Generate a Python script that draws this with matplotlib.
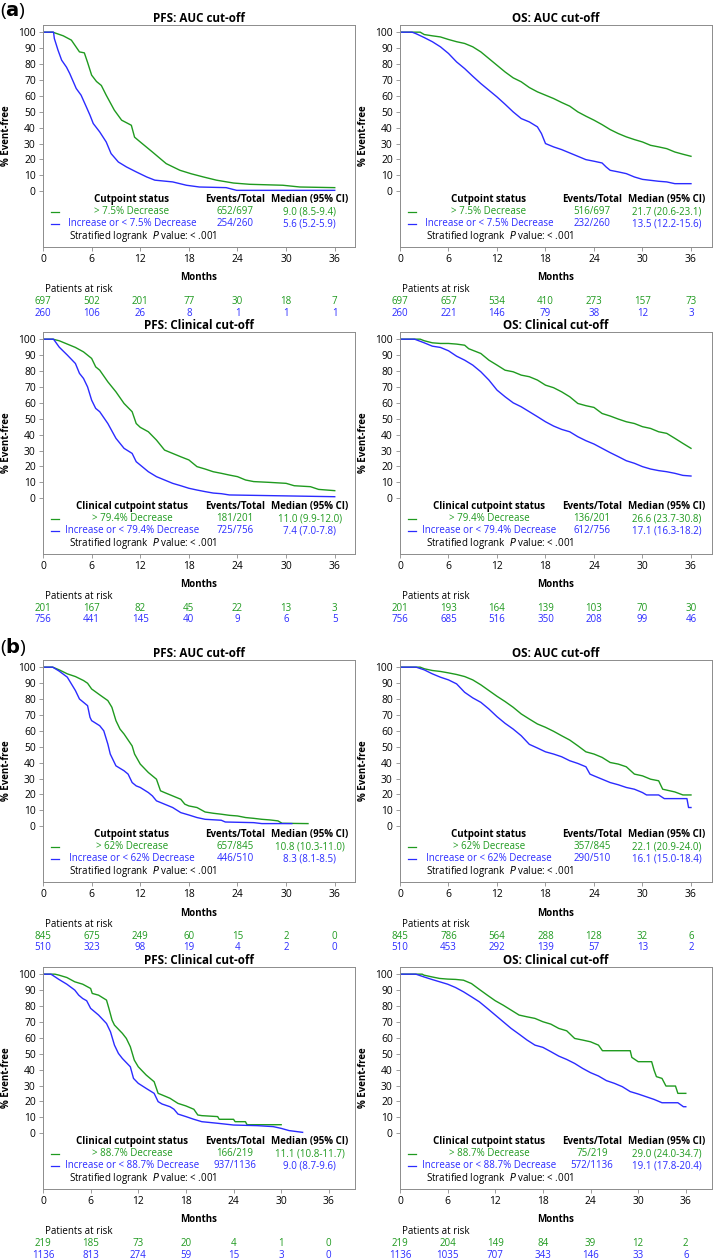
import matplotlib
matplotlib.use("Agg")
import matplotlib.pyplot as plt

plt.rcParams["font.family"] = ["Open Sans", "DejaVu Sans"]
plt.rcParams["mathtext.fontset"] = "dejavusans"

GREEN = "#1f9a1f"
BLUE = "#2b2bff"
FRAME = "#8c8c8c"
FS = 7.0        # legend / risk table text
TICK_FS = 7.4   # tick labels
TITLE_FS = 8.4  # panel titles

# x axis / risk table time points
months = [0, 6, 12, 18, 24, 30, 36]

# ---------------- (a) PFS: AUC cut-off ----------------
a_pfs_auc_t_g = [0, 1.2, 2.5, 3.5, 4.5, 5.1, 5.5, 6, 6.6, 7.2, 7.8, 8.8, 9.7, 10.9, 11.3, 12, 13.5, 15.2, 16.9, 18.3,
                 19.8, 21.4, 23.5, 25.5, 29.6, 31.7, 36]
a_pfs_auc_s_g = [100, 100, 97.7, 95, 87.6, 87, 81, 73, 69, 66.5, 60.4, 51, 44.7, 41.5, 34, 31, 24.7, 17.4, 13.2, 11,
                 9, 7, 5.2, 4.4, 3.8, 2.7, 2.3]
a_pfs_auc_t_b = [0, 1.3, 1.4, 1.85, 2.3, 2.9, 3.3, 4.1, 4.7, 5.35, 5.8, 6.2, 7, 7.8, 8.4, 9.3, 10.3, 11.5, 12.8, 13.8,
                 16, 17.7, 19.3, 22.6, 23.9, 36]
a_pfs_auc_s_b = [100, 100, 96, 88.7, 82.4, 78, 74, 64.6, 60.4, 53, 47.8, 42.6, 37.3, 31, 23.7, 18.4, 15.3, 12.2, 9, 7,
                 5.9, 3.8, 2.7, 2.3, 0.6, 0.6]
a_pfs_auc_risk_g = [697, 502, 201, 77, 30, 18, 7]
a_pfs_auc_risk_b = [260, 106, 26, 8, 1, 1, 1]

# ---------------- (a) OS: AUC cut-off ----------------
a_os_auc_t_g = [0, 2.5, 3, 4, 5, 6, 7, 8, 9, 10, 11, 12, 13, 14, 15, 16, 17, 18, 19, 20, 21, 22, 23, 24, 25, 26, 27,
                28, 29, 30, 31, 32, 33, 34, 35, 36]
a_os_auc_s_g = [100, 100, 98.5, 97.7, 97, 95.4, 94, 92.9, 90.8, 87.6, 83.4, 79.2, 75, 71.3, 68.8, 65.2, 62.5, 60.4,
                58.3, 55.8, 53.5, 49.9, 47.2, 44.7, 41.9, 38.8, 36.3, 34.2, 32.5, 31, 28.9, 27.9, 26.8, 24.7, 23.3, 22]
a_os_auc_t_b = [0, 1.5, 2, 3, 4, 5, 6, 7, 8, 9, 10, 11, 12, 13, 14, 15, 16, 17, 17.5, 18, 19, 20, 21, 22, 23, 24, 25,
                25.5, 26, 27, 28, 29, 30, 31, 32, 33, 34, 36]
a_os_auc_s_b = [100, 100, 99, 96.6, 94, 90.8, 86.6, 81.3, 77.1, 72.3, 67.7, 63.5, 59.3, 54.7, 49.9, 45.7, 43.6, 40.5,
                36.3, 30, 27.9, 26.2, 24.1, 22, 19.9, 18.9, 17.8, 15.3, 13.2, 12.2, 11.1, 9, 7.5, 6.9, 6.3, 5.9, 4.8, 4.8]
a_os_auc_risk_g = [697, 657, 534, 410, 273, 157, 73]
a_os_auc_risk_b = [260, 221, 146, 79, 38, 12, 3]

# ---------------- (a) PFS: Clinical cut-off ----------------
a_pfs_cli_t_g = [0, 1.2, 2, 3, 4, 5, 6, 6.5, 7, 8, 9, 10, 11, 11.5, 12, 13, 14, 15, 16, 17, 18, 19, 20, 21, 22, 23,
                 24, 25, 26, 28, 30, 31, 33, 34, 36]
a_pfs_cli_s_g = [100, 100, 99, 96.9, 94.8, 92, 87.9, 82.6, 80.5, 73.2, 66.9, 59.6, 54.4, 47, 44.6, 41.8, 36.6, 30.3,
                 28.2, 26.1, 24.1, 19.9, 18.4, 16.7, 15.7, 14.6, 13.6, 11.5, 10.5, 10, 9.4, 7.9, 7.3, 5.6, 4.8]
a_pfs_cli_t_b = [0, 1.3, 2, 3, 4, 4.5, 5, 5.5, 6, 6.5, 7, 8, 9, 10, 11, 11.5, 12, 13, 14, 15, 16, 17, 18, 19, 20, 21,
                 22, 23, 36]
a_pfs_cli_s_b = [100, 100, 95, 90, 84.7, 78.5, 75.3, 70, 61.7, 56.5, 54.4, 47, 37.7, 31.4, 28.2, 23, 20.9, 16.7, 13.6,
                 11.5, 9.4, 7.9, 6.3, 5.2, 4.2, 3.3, 2.9, 2.1, 1.0]
a_pfs_cli_risk_g = [201, 167, 82, 45, 22, 13, 3]
a_pfs_cli_risk_b = [756, 441, 145, 40, 9, 6, 5]

# ---------------- (a) OS: Clinical cut-off ----------------
a_os_cli_t_g = [0, 2.5, 3, 4, 5, 6, 7, 8, 8.5, 9, 10, 11, 12, 13, 14, 15, 16, 17, 18, 19, 20, 21, 22, 23, 24, 25, 26,
                27, 28, 29, 30, 31, 32, 33, 34, 35, 36]
a_os_cli_s_g = [100, 100, 99, 97.7, 97.3, 97.3, 96.9, 96.2, 94, 93, 91, 86.8, 83.7, 80.5, 79.5, 77.4, 76.4, 74.3, 71.1,
                69.5, 66.9, 63.8, 59.6, 58.2, 57.1, 53.3, 51.7, 49.8, 48.1, 47, 45, 43.9, 41.8, 40.8, 37.7, 34.5, 31.4]
a_os_cli_t_b = [0, 1.8, 3, 4, 5, 6, 7, 8, 9, 10, 11, 12, 13, 14, 15, 16, 17, 18, 19, 20, 21, 22, 23, 24, 25, 26, 27,
                28, 29, 30, 31, 32, 33, 34, 35, 36]
a_os_cli_s_b = [100, 100, 97.7, 95.6, 94.8, 92.7, 89.3, 86.8, 83.7, 79.5, 74.3, 68, 63.8, 60, 57.5, 54.4, 51.3, 48.1,
                45.4, 43.3, 41.8, 38.7, 36.2, 34.1, 31.4, 28.7, 26.2, 23.6, 22, 19.9, 18.4, 17.4, 16.7, 15.7, 14.4, 14]
a_os_cli_risk_g = [201, 193, 164, 139, 103, 70, 30]
a_os_cli_risk_b = [756, 685, 516, 350, 208, 99, 46]

# ---------------- (b) PFS: AUC cut-off ----------------
b_pfs_auc_t_g = [0, 1.2, 2, 3, 4, 5, 5.5, 6, 7, 8, 8.5, 9, 9.5, 10, 11, 11.3, 12, 13, 14, 14.5, 15, 16, 17, 17.5, 18,
                 19, 20, 21, 22, 23, 24, 25, 26, 27, 28, 29, 29.5, 32.7]
b_pfs_auc_s_g = [100, 100, 98.3, 95.8, 94.1, 91.6, 89.9, 86.3, 82.6, 79, 74.8, 66.4, 61.1, 58, 50.5, 45.4, 39.1, 33.8,
                 29.6, 22.3, 21.2, 19.1, 17, 13.9, 12.8, 11.8, 9, 8.2, 7.6, 6.9, 6.5, 5.5, 5, 4.4, 4, 3.4, 1.9, 1.7]
b_pfs_auc_t_b = [0, 1.2, 2, 3, 3.5, 4, 4.5, 5, 5.5, 5.8, 6, 7, 7.5, 8, 8.3, 9, 10, 10.5, 11, 11.5, 12, 13, 13.5, 14,
                 15, 16, 17, 18, 19, 20, 22, 22.5, 26, 27, 30.7]
b_pfs_auc_s_b = [100, 100, 97.5, 93.7, 89.5, 85.3, 80, 77.9, 75.8, 68.5, 66.4, 63.2, 60, 51.7, 45.4, 38, 34.9, 32.8,
                 27.5, 25.4, 24.4, 21.2, 19.1, 16, 13.9, 11.8, 8.6, 7.1, 5.5, 4.4, 3.8, 2.7, 2.3, 1.7, 1.7]
b_pfs_auc_risk_g = [845, 675, 249, 60, 15, 2, 0]
b_pfs_auc_risk_b = [510, 323, 98, 19, 4, 2, 0]

# ---------------- (b) OS: AUC cut-off ----------------
b_os_auc_t_g = [0, 2.5, 3, 4, 5, 6, 7, 8, 9, 10, 11, 12, 13, 14, 15, 16, 17, 18, 19, 20, 21, 22, 23, 24, 25, 26, 27,
                28, 29, 30, 31, 32, 32.5, 34, 35, 36]
b_os_auc_s_g = [100, 100, 99, 97.9, 97.3, 96.4, 95.4, 94.1, 92, 88.9, 85.3, 81.7, 78.4, 74.8, 70.6, 67.4, 64.3, 62.2,
                59.7, 56.9, 54.2, 50.6, 46.8, 45.4, 43.3, 40.1, 39.1, 37.4, 32.8, 31.7, 29.6, 28.6, 23.3, 21.6, 19.7,
                19.7]
b_os_auc_t_b = [0, 2, 3, 4, 5, 6, 7, 8, 9, 10, 11, 12, 13, 14, 15, 16, 17, 18, 19, 20, 21, 22, 23, 23.5, 24, 25, 26,
                27, 28, 29, 30, 30.5, 32, 32.7, 35.5, 35.7, 36]
b_os_auc_s_b = [100, 100, 98.3, 95.8, 93.7, 92, 89.5, 84.2, 80.7, 77.9, 73.7, 68.9, 64.7, 61.1, 56.9, 51.5, 49.2, 46.8,
                45.4, 43.7, 41.2, 39.5, 37.4, 32.8, 31.7, 29.6, 27.5, 26.1, 24.4, 23.3, 21.2, 19.7, 19.7, 17.4, 17.4,
                11.8, 11.8]
b_os_auc_risk_g = [845, 786, 564, 288, 128, 32, 6]
b_os_auc_risk_b = [510, 453, 292, 139, 57, 13, 2]

# ---------------- (b) PFS: Clinical cut-off ----------------
b_pfs_cli_t_g = [0, 1.5, 2, 3, 4, 5, 6, 6.2, 7, 8, 8.3, 8.7, 9, 10, 10.5, 11, 11.5, 12, 13, 14, 14.5, 15, 16, 17, 18,
                 19, 19.5, 20, 22, 22.2, 24, 24.2, 25.5, 25.7, 30]
b_pfs_cli_s_g = [100, 100, 99.4, 97.9, 95.2, 93.7, 91, 87.9, 86.8, 83.7, 78.5, 71.1, 68, 62.8, 59.6, 54.4, 46, 41.8,
                 36.6, 32.4, 25.1, 24.1, 22, 18.8, 17.2, 15.1, 11.5, 11.1, 10.5, 8.8, 8.8, 7.3, 7.3, 5.4, 5.4]
b_pfs_cli_t_b = [0, 1, 2, 3, 4, 4.5, 5, 5.5, 6, 7, 8, 8.5, 9, 9.5, 10, 11, 11.4, 12, 13, 14, 14.5, 15, 16, 16.5, 17,
                 18, 19, 20, 22, 24, 27, 29, 30, 31, 32.7]
b_pfs_cli_s_b = [100, 100, 96.7, 93.7, 90, 86.8, 84.7, 83.3, 78.5, 74.3, 69, 63.8, 55.4, 50.2, 47, 41.8, 34.5, 31.4,
                 28.2, 25.1, 19.9, 18.4, 16.7, 15.1, 12.1, 10.5, 8.8, 7.3, 6.3, 5.2, 4.8, 4.2, 3.1, 1.7, 0.6]
b_pfs_cli_risk_g = [219, 185, 73, 20, 4, 1, 0]
b_pfs_cli_risk_b = [1136, 813, 274, 59, 15, 3, 0]

# ---------------- (b) OS: Clinical cut-off ----------------
b_os_cli_t_g = [0, 2.8, 3, 4, 5, 6, 7, 8, 9, 10, 11, 12, 13, 14, 15, 16, 17, 18, 19, 20, 21, 22, 23, 24, 25, 25.5,
                29, 29.2, 30, 31.7, 32, 32.3, 33, 33.5, 34.7, 35, 36]
b_os_cli_s_g = [100, 100, 99.4, 98.3, 97.3, 96.9, 96.7, 96.2, 94.1, 90.4, 86.8, 83.3, 80.5, 77.4, 74.3, 73.2, 72.2,
                70.1, 68.6, 65.9, 64.4, 59.6, 58.6, 57.5, 55.4, 51.9, 51.9, 47.7, 45, 45, 39.7, 35.6, 34.5, 29.7, 29.7,
                25.1, 25.1]
b_os_cli_t_b = [0, 2, 3, 4, 5, 6, 7, 8, 9, 10, 11, 12, 13, 14, 15, 16, 17, 18, 19, 20, 21, 22, 23, 24, 25, 26, 27, 28,
                29, 30, 31, 32, 33, 35, 35.7, 36]
b_os_cli_s_b = [100, 100, 98.3, 96.7, 95.2, 93.7, 91.6, 88.9, 85.8, 82.6, 78.5, 74.3, 70.1, 65.9, 62.3, 58.6, 55.4, 54,
                51.3, 48.5, 46.4, 43.9, 40.8, 38.1, 36, 33.1, 31.4, 29.3, 26.2, 24.7, 23, 21.3, 19.2, 19.2, 16.7, 16.7]
b_os_cli_risk_g = [219, 204, 149, 84, 39, 12, 2]
b_os_cli_risk_b = [1136, 1035, 707, 343, 146, 33, 6]


def draw_panel(ax, title, header, lab_g, lab_b, ev_g, ev_b, med_g, med_b,
               t_g, s_g, t_b, s_b, risk_g, risk_b, xmax):
    ax.plot(t_g, s_g, color=GREEN, lw=1.0)
    ax.plot(t_b, s_b, color=BLUE, lw=1.0)
    ax.set_xlim(0, xmax)
    ax.set_ylim(-35, 104.5)
    ax.set_xticks(months)
    ax.set_yticks(range(0, 101, 10))
    ax.tick_params(labelsize=TICK_FS, length=3, width=0.6, color=FRAME, pad=2.2)
    for sp in ax.spines.values():
        sp.set_color(FRAME)
        sp.set_linewidth(0.7)
    ax.set_title(title, fontsize=TITLE_FS, fontweight="bold", pad=1.5)
    ax.set_ylabel("% Event-free", fontsize=FS, fontweight="bold")
    ax.yaxis.set_label_coords(-0.098, 0.5)

    # legend table drawn inside the axes
    tr = ax.get_yaxis_transform()  # x in axes fraction, y in data
    ax.text(0.285, -5, header, transform=tr, fontsize=FS, fontweight="bold", ha="center", va="center")
    ax.text(0.615, -5, "Events/Total", transform=tr, fontsize=FS, fontweight="bold", ha="center", va="center")
    ax.text(0.855, -5, "Median (95% CI)", transform=tr, fontsize=FS, fontweight="bold", ha="center", va="center")
    for y, col, lab, ev, med in [(-12.7, GREEN, lab_g, ev_g, med_g), (-20.3, BLUE, lab_b, ev_b, med_b)]:
        ax.plot([0.026, 0.051], [y, y], transform=tr, color=col, lw=0.9)
        ax.text(0.285, y, lab, transform=tr, fontsize=FS, color=col, ha="center", va="center")
        ax.text(0.615, y, ev, transform=tr, fontsize=FS, color=col, ha="center", va="center")
        ax.text(0.855, y, med, transform=tr, fontsize=FS, color=col, ha="center", va="center")
    ax.text(0.083, -28.2, "Stratified logrank  $P$ value: < .001", transform=tr, fontsize=FS,
            ha="left", va="center")

    # x label and patients at risk below the axes
    ax.annotate("Months", xy=(0.5, 0), xycoords="axes fraction", xytext=(0, -31 * 0.72),
                textcoords="offset points", fontsize=FS, fontweight="bold", ha="center", va="center")
    ax.annotate("Patients at risk", xy=(0.008, 0), xycoords="axes fraction", xytext=(0, -42.5 * 0.72),
                textcoords="offset points", fontsize=FS, ha="left", va="center")
    for m, rg, rb in zip(months, risk_g, risk_b):
        ax.annotate(str(rg), xy=(m, 0), xycoords=("data", "axes fraction"), xytext=(0, -54.5 * 0.72),
                    textcoords="offset points", fontsize=FS, color=GREEN, ha="center", va="center")
        ax.annotate(str(rb), xy=(m, 0), xycoords=("data", "axes fraction"), xytext=(0, -66 * 0.72),
                    textcoords="offset points", fontsize=FS, color=BLUE, ha="center", va="center")


W, H = 713, 1258
fig = plt.figure(figsize=(W / 100, H / 100), dpi=100)


def add_axes(left_px, top_px):
    return fig.add_axes([left_px / W, 1 - (top_px + 222) / H, 312 / W, 222 / H])


AUC = "Cutpoint status"
CLI = "Clinical cutpoint status"

ax = add_axes(43, 25)
draw_panel(ax, "PFS: AUC cut-off", AUC, "> 7.5% Decrease", "Increase or < 7.5% Decrease",
           "652/697", "254/260", "9.0 (8.5-9.4)", "5.6 (5.2-5.9)",
           a_pfs_auc_t_g, a_pfs_auc_s_g, a_pfs_auc_t_b, a_pfs_auc_s_b, a_pfs_auc_risk_g, a_pfs_auc_risk_b, 38.5)
ax = add_axes(400, 25)
draw_panel(ax, "OS: AUC cut-off", AUC, "> 7.5% Decrease", "Increase or < 7.5% Decrease",
           "516/697", "232/260", "21.7 (20.6-23.1)", "13.5 (12.2-15.6)",
           a_os_auc_t_g, a_os_auc_s_g, a_os_auc_t_b, a_os_auc_s_b, a_os_auc_risk_g, a_os_auc_risk_b, 38.6)
ax = add_axes(43, 332)
draw_panel(ax, "PFS: Clinical cut-off", CLI, "> 79.4% Decrease", "Increase or < 79.4% Decrease",
           "181/201", "725/756", "11.0 (9.9-12.0)", "7.4 (7.0-7.8)",
           a_pfs_cli_t_g, a_pfs_cli_s_g, a_pfs_cli_t_b, a_pfs_cli_s_b, a_pfs_cli_risk_g, a_pfs_cli_risk_b, 38.5)
ax = add_axes(400, 332)
draw_panel(ax, "OS: Clinical cut-off", CLI, "> 79.4% Decrease", "Increase or < 79.4% Decrease",
           "136/201", "612/756", "26.6 (23.7-30.8)", "17.1 (16.3-18.2)",
           a_os_cli_t_g, a_os_cli_s_g, a_os_cli_t_b, a_os_cli_s_b, a_os_cli_risk_g, a_os_cli_risk_b, 38.6)
ax = add_axes(43, 660)
draw_panel(ax, "PFS: AUC cut-off", AUC, "> 62% Decrease", "Increase or < 62% Decrease",
           "657/845", "446/510", "10.8 (10.3-11.0)", "8.3 (8.1-8.5)",
           b_pfs_auc_t_g, b_pfs_auc_s_g, b_pfs_auc_t_b, b_pfs_auc_s_b, b_pfs_auc_risk_g, b_pfs_auc_risk_b, 38.5)
ax = add_axes(400, 660)
draw_panel(ax, "OS: AUC cut-off", AUC, "> 62% Decrease", "Increase or < 62% Decrease",
           "357/845", "290/510", "22.1 (20.9-24.0)", "16.1 (15.0-18.4)",
           b_os_auc_t_g, b_os_auc_s_g, b_os_auc_t_b, b_os_auc_s_b, b_os_auc_risk_g, b_os_auc_risk_b, 38.6)
ax = add_axes(43, 967)
draw_panel(ax, "PFS: Clinical cut-off", CLI, "> 88.7% Decrease", "Increase or < 88.7% Decrease",
           "166/219", "937/1136", "11.1 (10.8-11.7)", "9.0 (8.7-9.6)",
           b_pfs_cli_t_g, b_pfs_cli_s_g, b_pfs_cli_t_b, b_pfs_cli_s_b, b_pfs_cli_risk_g, b_pfs_cli_risk_b, 39.3)
ax = add_axes(400, 967)
draw_panel(ax, "OS: Clinical cut-off", CLI, "> 88.7% Decrease", "Increase or < 88.7% Decrease",
           "75/219", "572/1136", "29.0 (24.0-34.7)", "19.1 (17.8-20.4)",
           b_os_cli_t_g, b_os_cli_s_g, b_os_cli_t_b, b_os_cli_s_b, b_os_cli_risk_g, b_os_cli_risk_b, 39.3)

# panel letters
fig.text(0.5 / W, 1 - 11 / H, r"($\mathbf{a}$)", fontsize=14, va="center", ha="left")
fig.text(0.5 / W, 1 - 647 / H, r"($\mathbf{b}$)", fontsize=14, va="center", ha="left")

fig.savefig("out.png", dpi=100)
